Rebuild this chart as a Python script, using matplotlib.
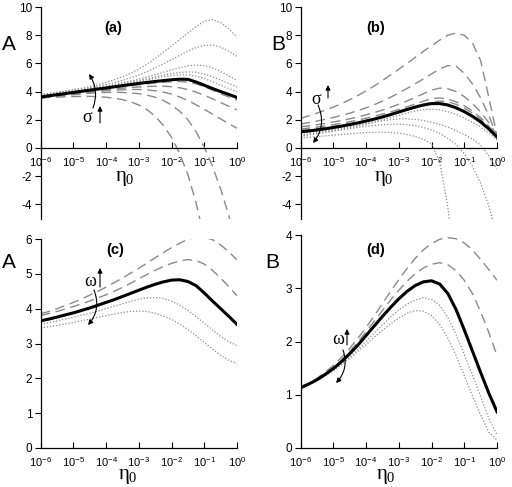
import numpy as np
import matplotlib.pyplot as plt
from matplotlib.ticker import LogLocator, NullFormatter

plt.rcParams['font.family'] = ['Liberation Sans', 'DejaVu Sans']
plt.rcParams['axes.unicode_minus'] = False
plt.rcParams['mathtext.fontset'] = 'custom'
plt.rcParams['mathtext.rm'] = 'Liberation Serif'
plt.rcParams['mathtext.it'] = 'Liberation Serif'

# eta_0 sampled every quarter decade, 1e-6 .. 1
log_eta = np.arange(-6, 0.01, 0.25)
eta = 10.0 ** log_eta

# panel (a): A vs eta_0, varying sigma
a_dot1 = [3.80, 3.87, 3.95, 4.04, 4.13, 4.24, 4.36, 4.50, 4.66, 4.84, 5.05, 5.30, 5.60,
          5.95, 6.35, 6.80, 7.25, 7.70, 8.15, 8.60, 9.00, 9.10, 8.90, 8.45, 7.85]
a_dot2 = [3.78, 3.85, 3.92, 4.00, 4.08, 4.17, 4.27, 4.38, 4.50, 4.64, 4.80, 4.98, 5.18,
          5.42, 5.68, 5.97, 6.27, 6.57, 6.87, 7.12, 7.28, 7.30, 7.15, 6.87, 6.50]
a_dot3 = [3.75, 3.82, 3.89, 3.96, 4.03, 4.11, 4.20, 4.29, 4.39, 4.50, 4.62, 4.75, 4.89,
          5.04, 5.20, 5.37, 5.54, 5.70, 5.82, 5.88, 5.84, 5.68, 5.42, 5.12, 4.80]
a_dot4 = [3.73, 3.79, 3.86, 3.93, 4.00, 4.07, 4.15, 4.24, 4.33, 4.43, 4.54, 4.66, 4.78,
          4.91, 5.04, 5.17, 5.28, 5.36, 5.40, 5.37, 5.25, 5.05, 4.82, 4.58, 4.35]
a_dot5 = [3.71, 3.77, 3.84, 3.91, 3.98, 4.05, 4.13, 4.21, 4.30, 4.39, 4.49, 4.60, 4.71,
          4.83, 4.95, 5.06, 5.14, 5.19, 5.19, 5.10, 4.93, 4.70, 4.46, 4.22, 4.00]
a_black = [3.62, 3.70, 3.78, 3.86, 3.94, 4.02, 4.10, 4.18, 4.26, 4.34, 4.42, 4.50, 4.58,
           4.65, 4.72, 4.78, 4.84, 4.88, 4.87, 4.68, 4.45, 4.22, 4.00, 3.80, 3.58]
a_dash1 = [3.60, 3.67, 3.75, 3.83, 3.91, 3.99, 4.07, 4.15, 4.22, 4.29, 4.36, 4.43, 4.49,
           4.55, 4.61, 4.66, 4.70, 4.72, 4.68, 4.55, 4.35, 4.10, 3.85, 3.62, 3.40]
a_dash2 = [3.58, 3.65, 3.72, 3.79, 3.86, 3.93, 4.00, 4.07, 4.13, 4.19, 4.24, 4.29, 4.33,
           4.36, 4.38, 4.38, 4.35, 4.27, 4.14, 3.96, 3.74, 3.49, 3.22, 2.96, 2.70]
a_dash3 = [3.56, 3.63, 3.70, 3.77, 3.83, 3.89, 3.95, 4.01, 4.06, 4.10, 4.13, 4.15, 4.15,
           4.12, 4.06, 3.96, 3.82, 3.62, 3.37, 3.07, 2.74, 2.40, 2.06, 1.73, 1.40]
a_dash4 = [3.55, 3.58, 3.61, 3.63, 3.65, 3.66, 3.66, 3.64, 3.60, 3.53, 3.43, 3.27, 3.05,
           2.72, 2.25, 1.60, 0.75, -0.40, -1.90, -3.90, -6.40, -9.50, -13.0, -17.0, -21.0]
a_dash5 = [3.55, 3.61, 3.67, 3.73, 3.79, 3.84, 3.88, 3.92, 3.94, 3.95, 3.94, 3.91, 3.85,
           3.75, 3.60, 3.37, 3.05, 2.60, 2.00, 1.15, 0.05, -1.30, -2.90, -4.80, -7.00]

# panel (b): B vs eta_0, varying sigma
b_dash1 = [2.10, 2.28, 2.47, 2.68, 2.90, 3.15, 3.42, 3.72, 4.05, 4.40, 4.78, 5.18, 5.58,
           6.00, 6.42, 6.85, 7.25, 7.65, 8.00, 8.15, 8.00, 7.45, 6.20, 3.60, 0.90]
b_dash2 = [1.70, 1.80, 1.91, 2.03, 2.16, 2.31, 2.47, 2.65, 2.85, 3.07, 3.32, 3.60, 3.90,
           4.22, 4.55, 4.90, 5.25, 5.60, 5.85, 5.80, 5.30, 4.55, 3.55, 2.30, 0.85]
b_dash3 = [1.50, 1.57, 1.65, 1.74, 1.84, 1.95, 2.07, 2.20, 2.35, 2.51, 2.69, 2.89, 3.10,
           3.33, 3.58, 3.85, 4.10, 4.25, 4.20, 4.00, 3.65, 3.15, 2.55, 1.80, 0.90]
b_dash4 = [1.35, 1.41, 1.48, 1.56, 1.65, 1.75, 1.86, 1.98, 2.11, 2.25, 2.40, 2.56, 2.73,
           2.92, 3.12, 3.32, 3.50, 3.55, 3.47, 3.28, 3.00, 2.62, 2.15, 1.55, 0.85]
b_dash5 = [1.25, 1.31, 1.38, 1.45, 1.53, 1.62, 1.72, 1.83, 1.95, 2.08, 2.22, 2.37, 2.53,
           2.70, 2.89, 3.08, 3.25, 3.33, 3.28, 3.10, 2.83, 2.48, 2.03, 1.45, 0.80]
b_black = [1.15, 1.21, 1.28, 1.36, 1.45, 1.55, 1.66, 1.78, 1.91, 2.05, 2.20, 2.37, 2.55,
           2.73, 2.90, 3.05, 3.15, 3.15, 3.05, 2.85, 2.58, 2.25, 1.85, 1.35, 0.78]
b_dot1 = [1.05, 1.11, 1.17, 1.24, 1.32, 1.41, 1.51, 1.62, 1.74, 1.87, 2.01, 2.16, 2.32,
          2.48, 2.62, 2.72, 2.75, 2.70, 2.57, 2.38, 2.13, 1.83, 1.48, 1.05, 0.57]
b_dot2 = [0.92, 0.99, 1.07, 1.15, 1.24, 1.34, 1.45, 1.57, 1.69, 1.81, 1.92, 2.01, 2.06,
          2.07, 2.03, 1.95, 1.83, 1.67, 1.48, 1.24, 0.96, 0.63, 0.20, -0.55, -1.50]
b_dot3 = [0.85, 0.93, 1.01, 1.10, 1.19, 1.28, 1.37, 1.46, 1.54, 1.61, 1.66, 1.69, 1.69,
          1.66, 1.58, 1.46, 1.28, 1.03, 0.70, 0.25, -0.40, -1.30, -2.50, -4.10, -6.20]
b_dot4 = [0.70, 0.75, 0.80, 0.86, 0.91, 0.96, 1.01, 1.05, 1.09, 1.11, 1.12, 1.10, 1.05,
          0.96, 0.82, 0.62, 0.30, -1.00, -4.20, -9.00, -15.0, -21.0, -27.0, -33.0, -40.0]

# panel (c): A vs eta_0, varying omega
c_dash1 = [3.85, 3.92, 4.00, 4.09, 4.18, 4.28, 4.39, 4.50, 4.62, 4.75, 4.88, 5.02, 5.16,
           5.31, 5.46, 5.61, 5.75, 5.88, 5.99, 6.05, 6.05, 5.98, 5.83, 5.63, 5.40]
c_dash2 = [3.80, 3.86, 3.92, 3.99, 4.06, 4.14, 4.22, 4.31, 4.40, 4.50, 4.61, 4.73, 4.86,
           4.98, 5.10, 5.21, 5.30, 5.37, 5.41, 5.38, 5.28, 5.10, 4.88, 4.63, 4.37]
c_black = [3.65, 3.70, 3.76, 3.82, 3.88, 3.95, 4.02, 4.10, 4.18, 4.26, 4.35, 4.44, 4.53,
           4.62, 4.70, 4.77, 4.82, 4.83, 4.78, 4.66, 4.45, 4.22, 4.00, 3.78, 3.55]
c_dot1 = [3.55, 3.60, 3.65, 3.70, 3.75, 3.81, 3.87, 3.93, 4.00, 4.07, 4.14, 4.21, 4.27,
          4.31, 4.32, 4.29, 4.22, 4.10, 3.95, 3.77, 3.58, 3.39, 3.20, 3.05, 2.94]
c_dot2 = [3.45, 3.48, 3.52, 3.56, 3.60, 3.65, 3.70, 3.75, 3.80, 3.85, 3.89, 3.92, 3.93,
          3.92, 3.87, 3.79, 3.69, 3.56, 3.40, 3.22, 3.03, 2.84, 2.66, 2.52, 2.42]

# panel (d): B vs eta_0, varying omega
d_dash1 = [1.15, 1.22, 1.31, 1.42, 1.55, 1.70, 1.87, 2.06, 2.26, 2.48, 2.71, 2.94, 3.16,
           3.37, 3.56, 3.72, 3.84, 3.92, 3.95, 3.93, 3.85, 3.72, 3.54, 3.35, 3.15]
d_dash2 = [1.14, 1.21, 1.29, 1.39, 1.51, 1.65, 1.81, 1.99, 2.18, 2.38, 2.58, 2.78, 2.96,
           3.13, 3.27, 3.38, 3.45, 3.48, 3.44, 3.33, 3.15, 2.90, 2.56, 2.17, 1.74]
d_black = [1.13, 1.20, 1.28, 1.38, 1.49, 1.62, 1.77, 1.93, 2.11, 2.29, 2.47, 2.64, 2.80,
           2.94, 3.05, 3.12, 3.14, 3.08, 2.90, 2.60, 2.22, 1.82, 1.42, 1.03, 0.68]
d_dot1 = [1.12, 1.19, 1.27, 1.36, 1.46, 1.58, 1.71, 1.85, 2.00, 2.16, 2.31, 2.46, 2.59,
          2.70, 2.78, 2.82, 2.79, 2.68, 2.45, 2.13, 1.76, 1.37, 0.97, 0.55, 0.25]
d_dot2 = [1.12, 1.18, 1.26, 1.35, 1.45, 1.56, 1.68, 1.81, 1.94, 2.08, 2.21, 2.33, 2.44,
          2.53, 2.58, 2.57, 2.49, 2.32, 2.06, 1.74, 1.36, 0.98, 0.62, 0.30, 0.15]

W, H = 512, 487
grey = '#8a8a8a'

fig = plt.figure(figsize=(W / 100, H / 100), dpi=100)


def px_axes(x0, x1, ytop, ybot):
    return fig.add_axes([x0 / W, 1 - ybot / H, (x1 - x0) / W, (ybot - ytop) / H])


def setup(ax, ylim, yticks):
    ax.set_xscale('log')
    ax.set_xlim(1e-6, 1)
    ax.set_ylim(*ylim)
    ax.spines['top'].set_visible(False)
    ax.spines['right'].set_visible(False)
    ax.spines['bottom'].set_position(('data', 0))
    for s in ax.spines.values():
        s.set_linewidth(0.9)
    ax.set_yticks(yticks)
    ax.set_xticks(10.0 ** np.arange(-6, 1))
    ax.xaxis.set_minor_locator(LogLocator(base=10, subs=np.arange(2, 10)))
    ax.xaxis.set_minor_formatter(NullFormatter())
    ax.tick_params(axis='x', which='major', direction='in', length=4, width=0.8, pad=5, labelsize=8)
    ax.tick_params(axis='x', which='minor', direction='in', length=2.5, width=0.6)
    ax.tick_params(axis='y', direction='out', length=4, width=0.8, pad=2, labelsize=8.5)
    ax.patch.set_alpha(0)


def draw(ax, dashed, dotted, black):
    for y in dashed:
        ax.plot(eta, y, color=grey, lw=1.0, ls=(0, (7, 4)))
    for y in dotted:
        ax.plot(eta, y, color=grey, lw=0.9, ls=(0, (1, 1.5)))
    ax.plot(eta, black, color='black', lw=2.2)


def ftext(x, y, s, **kw):
    fig.text(x / W, 1 - y / H, s, ha='center', va='center', **kw)


def arrow(x0, y0, x1, y1, rad=0.0):
    fig.add_artist(plt.Annotation('', xy=(x1 / W, 1 - y1 / H), xytext=(x0 / W, 1 - y0 / H),
                                  xycoords='figure fraction', textcoords='figure fraction',
                                  arrowprops=dict(arrowstyle='-|>', lw=0.8, color='black',
                                                  mutation_scale=7, shrinkA=0, shrinkB=0,
                                                  connectionstyle=f'arc3,rad={rad}')))


ax_a = px_axes(40.7, 237, 7, 218.5)
setup(ax_a, (-5, 10), [-4, -2, 0, 2, 4, 6, 8, 10])
draw(ax_a, [a_dash1, a_dash2, a_dash3, a_dash4, a_dash5],
     [a_dot1, a_dot2, a_dot3, a_dot4, a_dot5], a_black)

ax_b = px_axes(300.5, 497, 7, 218.5)
setup(ax_b, (-5, 10), [-4, -2, 0, 2, 4, 6, 8, 10])
draw(ax_b, [b_dash1, b_dash2, b_dash3, b_dash4, b_dash5],
     [b_dot1, b_dot2, b_dot3, b_dot4], b_black)

ax_c = px_axes(40.7, 237, 239, 448)
setup(ax_c, (0, 6), [0, 1, 2, 3, 4, 5, 6])
draw(ax_c, [c_dash1, c_dash2], [c_dot1, c_dot2], c_black)

ax_d = px_axes(300.5, 497, 235, 448)
setup(ax_d, (0, 4), [0, 1, 2, 3, 4])
draw(ax_d, [d_dash1, d_dash2], [d_dot1, d_dot2], d_black)

# labels
for x, y in [(9, 45), (9, 263)]:
    ftext(x, y, 'A', fontsize=15)
for x, y in [(278, 45), (272, 263)]:
    ftext(x, y, 'B', fontsize=15)
for x, y, t in [(113, 28, '(a)'), (376, 28, '(b)'), (115, 250, '(c)'), (376, 250, '(d)')]:
    ftext(x, y, t, fontsize=10.5, fontweight='bold')
for x, y in [(125, 178), (384, 178), (128, 477), (386, 477)]:
    ftext(x, y, r'$\eta_0$', fontsize=15)

# sigma / omega annotations
serif = dict(fontsize=13, family='Liberation Serif')
ftext(87, 118, 'σ', **serif)
arrow(100, 123, 100, 106)
arrow(93, 108, 89, 74, rad=0.25)

ftext(316, 100, 'σ', **serif)
arrow(328, 98, 328, 85)
arrow(318, 105, 313, 143, rad=-0.3)

ftext(90, 281, 'ω', **serif)
arrow(100, 287, 100, 268)
arrow(94, 290, 88, 325, rad=-0.3)

ftext(338, 339, 'ω', **serif)
arrow(347, 345, 347, 329)
arrow(343, 350, 336, 383, rad=-0.3)

fig.savefig('out.png', dpi=100)
